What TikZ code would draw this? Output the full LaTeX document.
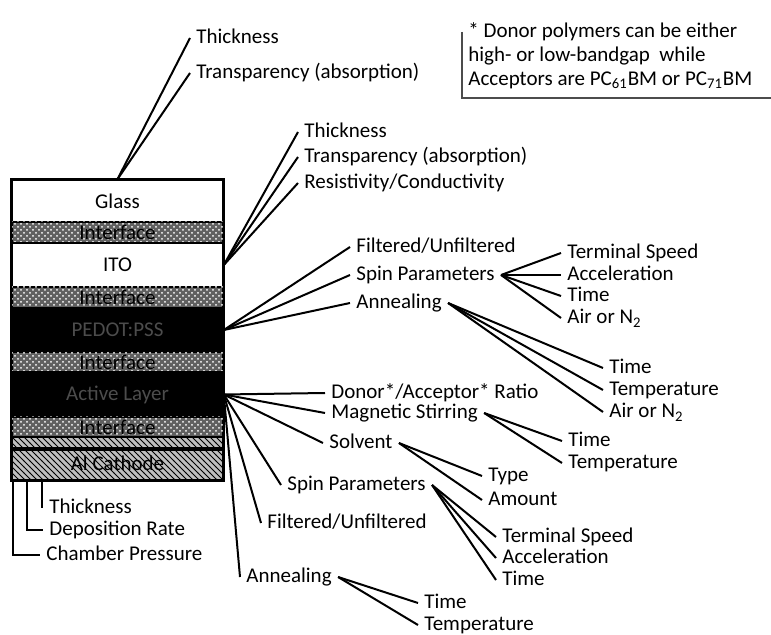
\documentclass[tikz,border=0pt]{standalone}
\usepackage{fontspec}
\setmainfont{Carlito}
\usetikzlibrary{patterns}

\begin{document}
\begin{tikzpicture}[x=0.5pt,y=-0.5pt,
  font=\fontsize{10.5}{12}\selectfont,
  lbl/.style={anchor=west,inner xsep=3pt,inner ysep=1pt,text height=1.5ex,text depth=.3ex},
  conn/.style={line width=1pt},
  layer/.style={draw,line width=.8pt,minimum width=105.5pt,inner sep=0pt},
  iface/.style={layer,minimum height=10.5pt,fill=gray!75!black,
    postaction={pattern=crosshatch dots,pattern color=white}},
  dark/.style={layer,fill=black,text=black!70}]
  \useasboundingbox (0,0) rectangle (771,635);

  \node[layer,minimum height=21pt] (glass) at (117.5,201) {Glass};
  \node[iface] (int1) at (117.5,232.5) {Interface};
  \node[layer,minimum height=22pt] (ito) at (117.5,265) {ITO};
  \node[iface] (int2) at (117.5,297.5) {Interface};
  \node[dark,minimum height=22pt] (pedot) at (117.5,330) {PEDOT:PSS};
  \node[iface,minimum height=10pt] (int3) at (117.5,362) {Interface};
  \node[dark,minimum height=22.5pt] (active) at (117.5,394.5) {Active Layer};
  \node[iface,minimum height=10pt] (int4) at (117.5,427) {Interface};
  \node[layer,minimum height=21.5pt,preaction={fill=gray!50},pattern=north west lines] (cat) at (117.5,458.5) {};
  \draw[line width=1.8pt] ([yshift=-6.5pt]cat.north west) -- ([yshift=-6.5pt]cat.north east);
  \node[yshift=-2.5pt] at (cat) {Al Cathode};
  \draw[line width=1.2pt] (glass.north west) rectangle (cat.south east);

  \node[lbl] (gthick) at (190,38) {Thickness};
  \node[lbl] (gtrans) at (190,73) {Transparency (absorption)};
  \draw[conn] (glass.north) -- (gthick.west);
  \draw[conn] (glass.north) -- (gtrans.west);

  \node[lbl] (ithick) at (298,132) {Thickness};
  \node[lbl] (itrans) at (298,157) {Transparency (absorption)};
  \node[lbl] (ires) at (298,183) {Resistivity/Conductivity};
  \draw[conn] (ito.east) -- (ithick.west);
  \draw[conn] (ito.east) -- (itrans.west);
  \draw[conn] (ito.east) -- (ires.west);

  \node[lbl] (pfilt) at (350,247) {Filtered/Unfiltered};
  \node[lbl] (pspin) at (350,275) {Spin Parameters};
  \node[lbl] (pann) at (350,303) {Annealing};
  \draw[conn] (pedot.east) -- (pfilt.west);
  \draw[conn] (pedot.east) -- (pspin.west);
  \draw[conn] (pedot.east) -- (pann.west);

  \node[lbl] (psspeed) at (561,253) {Terminal Speed};
  \node[lbl] (psacc) at (561,275) {Acceleration};
  \node[lbl] (pstime) at (561,296) {Time};
  \node[lbl] (psair) at (561,318) {Air or N\textsubscript{2}};
  \draw[conn] (pspin.east) -- (psspeed.west);
  \draw[conn] (pspin.east) -- (psacc.west);
  \draw[conn] (pspin.east) -- (pstime.west);
  \draw[conn] (pspin.east) -- (psair.west);

  \node[lbl] (patime) at (603,368) {Time};
  \node[lbl] (patemp) at (603,390) {Temperature};
  \node[lbl] (paair) at (603,412) {Air or N\textsubscript{2}};
  \draw[conn] (pann.east) -- (patime.west);
  \draw[conn] (pann.east) -- (patemp.west);
  \draw[conn] (pann.east) -- (paair.west);

  \node[lbl] (aratio) at (325,393) {Donor*/Acceptor* Ratio};
  \node[lbl] (astir) at (325,413) {Magnetic Stirring};
  \node[lbl] (asolv) at (323,443) {Solvent};
  \node[lbl] (aspin) at (281,485) {Spin Parameters};
  \node[lbl] (afilt) at (261,523) {Filtered/Unfiltered};
  \node[lbl] (aann) at (240,577) {Annealing};
  \draw[conn] (active.east) -- (aratio.west);
  \draw[conn] (active.east) -- (astir.west);
  \draw[conn] (active.east) -- (asolv.west);
  \draw[conn] (active.east) -- (aspin.west);
  \draw[conn] (active.east) -- (afilt.west);
  \draw[conn] (active.east) -- (aann.west);

  \node[lbl] (amtime) at (562,441) {Time};
  \node[lbl] (amtemp) at (562,463) {Temperature};
  \draw[conn] (astir.east) -- (amtime.west);
  \draw[conn] (astir.east) -- (amtemp.west);

  \node[lbl] (astype) at (482,476) {Type};
  \node[lbl] (asamt) at (482,500) {Amount};
  \draw[conn] (asolv.east) -- (astype.west);
  \draw[conn] (asolv.east) -- (asamt.west);

  \node[lbl] (aspspeed) at (496,537) {Terminal Speed};
  \node[lbl] (aspacc) at (496,558) {Acceleration};
  \node[lbl] (asptime) at (496,580) {Time};
  \draw[conn] (aspin.east) -- (aspspeed.west);
  \draw[conn] (aspin.east) -- (aspacc.west);
  \draw[conn] (aspin.east) -- (asptime.west);

  \node[lbl] (aatime) at (418,603) {Time};
  \node[lbl] (aatemp) at (418,625) {Temperature};
  \draw[conn] (aann.east) -- (aatime.west);
  \draw[conn] (aann.east) -- (aatemp.west);

  \coordinate (b1) at (13,480);
  \coordinate (b2) at (27,480);
  \coordinate (b3) at (42,480);
  \node[lbl] (cthick) at (43,508) {Thickness};
  \node[lbl] (crate) at (43,530) {Deposition Rate};
  \node[lbl] (cpress) at (40,555) {Chamber Pressure};
  \draw[conn] (b3) -- (b3 |- cthick.west);
  \draw[conn] (b2) |- (crate.west);
  \draw[conn] (b1) |- (cpress.west);

  \node[anchor=north west,align=left,inner sep=3pt] (note) at (462,16)
    {* Donor polymers can be either\\
     high- or low-bandgap\ \ while\\
     Acceptors are PC\textsubscript{61}BM or PC\textsubscript{71}BM};
  \draw[gray!60!black,line width=.8pt] (462,32) |- (771,98);
\end{tikzpicture}
\end{document}
